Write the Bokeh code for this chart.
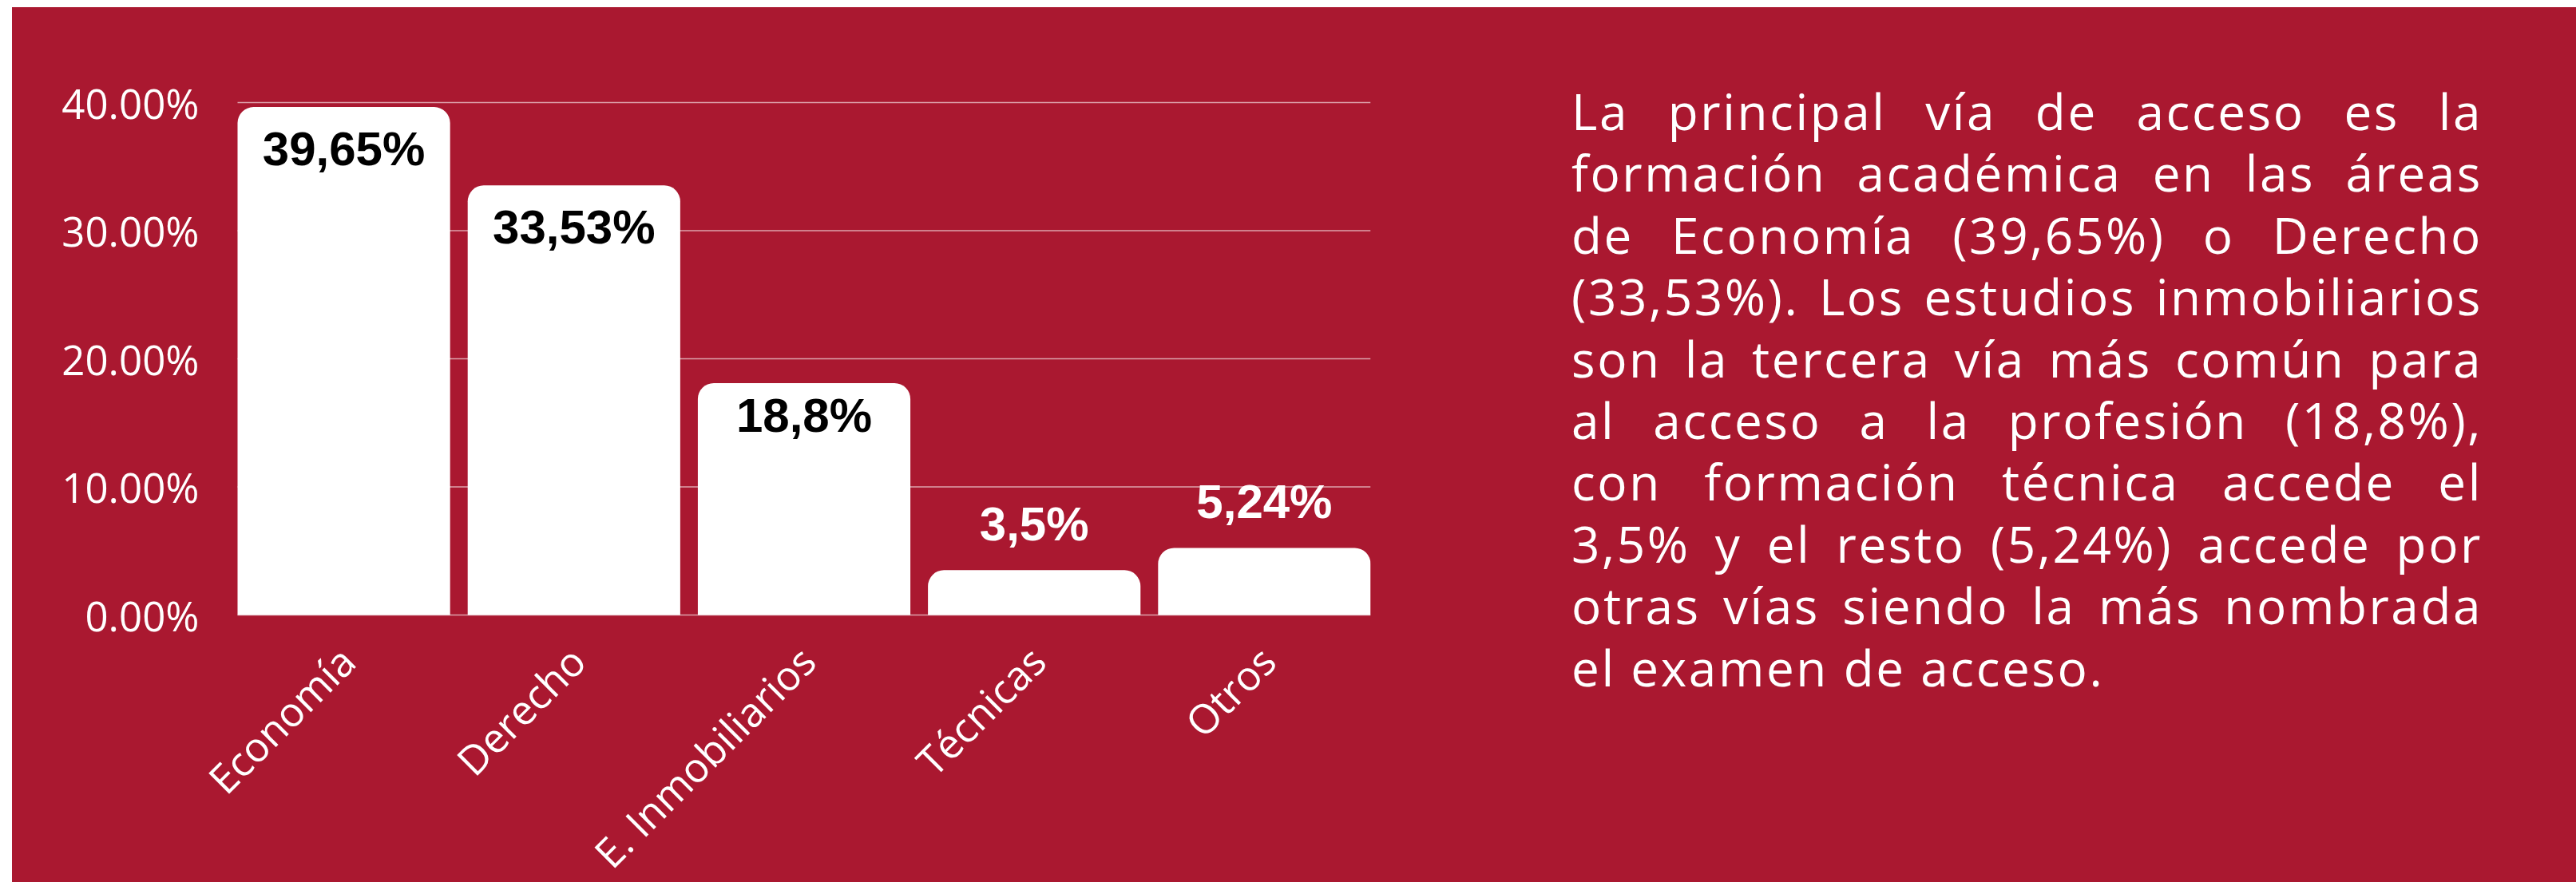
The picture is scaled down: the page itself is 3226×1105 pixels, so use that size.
import math
from bokeh.plotting import figure
from bokeh.models import Range1d, FixedTicker, Div, ColumnDataSource
from bokeh.layouts import row
from bokeh.embed import file_html
from bokeh.resources import INLINE
from bokeh.core.properties import value

# ---------------- data ----------------
categories = ["Economía", "Derecho", "E. Inmobiliarios", "Técnicas", "Otros"]
shares = [39.65, 33.53, 18.8, 3.5, 5.24]          # labelled shares (%)
bar_heights = [39.65, 33.53, 18.1, 3.5, 5.24]     # heights as drawn in the picture (%)
share_labels = ["39,65%", "33,53%", "18,8%", "3,5%", "5,24%"]
y_ticks = [0, 10, 20, 30, 40]
y_tick_labels = ["0.00%", "10.00%", "20.00%", "30.00%", "40.00%"]
paragraph_lines = [
    "La principal vía de acceso es la",
    "formación académica en las áreas",
    "de Economía (39,65%) o Derecho",
    "(33,53%). Los estudios inmobiliarios",
    "son la tercera vía más común para",
    "al acceso a la profesión (18,8%),",
    "con formación técnica accede el",
    "3,5% y el resto (5,24%) accede por",
    "otras vías siendo la más nombrada",
    "el examen de acceso.",
]

# ---------------- style / geometry ----------------
RED = "#AA1830"
BAR_W = 0.9236
FIG_W, FIG_H = 1900, 1096
TEXT_W = 3226 - 15 - FIG_W
PX_PER_UNIT = 16.05            # vertical pixels per percentage point
PX_PER_CAT = 288.2             # horizontal pixels per category
TOP_PAD_PX = 3                 # room above the 40% grid line
BOTTOM_ROOM_PX = 335           # room below 0% for the rotated category names
LEFT_ROOM_PX = 42              # room left of the first bar for its rotated name

xs = list(range(len(categories)))
bars_start = -BAR_W / 2
bars_end = len(categories) - 1 + BAR_W / 2
y_max = max(y_ticks) + TOP_PAD_PX / PX_PER_UNIT
y_min = -BOTTOM_ROOM_PX / PX_PER_UNIT

p = figure(
    width=FIG_W, height=FIG_H,
    x_range=Range1d(bars_start - LEFT_ROOM_PX / PX_PER_CAT, bars_end),
    y_range=Range1d(y_min, y_max),
    output_backend="svg", toolbar_location=None,
    min_border_left=240, min_border_right=199,
    min_border_top=116, min_border_bottom=0,
)
p.background_fill_color = RED
p.border_fill_color = RED
p.outline_line_color = None
p.margin = 0

# horizontal guide lines spanning the bar area only
p.xgrid.visible = False
p.ygrid.visible = False
p.segment(x0=[bars_start] * len(y_ticks), x1=[bars_end] * len(y_ticks),
          y0=y_ticks, y1=y_ticks,
          line_color="white", line_alpha=0.6, line_width=1.5)

p.vbar(x=xs, top=bar_heights, bottom=0, width=BAR_W,
       fill_color="white", line_color=None,
       border_radius=(20, 20, 0, 0))

inside = [v > 10 for v in shares]
lab_src = ColumnDataSource(dict(
    x=xs, y=shares, text=share_labels,
    color=["black" if i else "white" for i in inside],
    yoff=[52 if i else -58 for i in inside],
))
p.text(x="x", y="y", text="text", source=lab_src,
       text_color="color", y_offset="yoff",
       text_align="center", text_baseline="alphabetic",
       text_font=value("Liberation Sans"), text_font_style="bold",
       text_font_size="60px")

# y axis
p.yaxis.ticker = FixedTicker(ticks=y_ticks)
p.yaxis.major_label_overrides = {t: l for t, l in zip(y_ticks, y_tick_labels)}
p.yaxis.axis_line_color = None
p.yaxis.major_tick_line_color = None
p.yaxis.minor_tick_line_color = None
p.yaxis.major_label_standoff = 0
p.yaxis.major_label_text_color = "white"
p.yaxis.major_label_text_font = "Open Sans"
p.yaxis.major_label_text_font_size = "51px"

# category names, rotated 45 degrees, ending under each bar
p.xaxis.visible = False
cat_src = ColumnDataSource(dict(x=xs, y=[0] * len(xs), text=categories))
p.text(x="x", y="y", text="text", source=cat_src,
       angle=math.pi / 4, x_offset=4, y_offset=48,
       text_align="right", text_baseline="alphabetic",
       text_color="white", text_font=value("Open Sans"), text_font_size="51px")

# paragraph (justified)
lines_html = []
for i, line in enumerate(paragraph_lines):
    last = i == len(paragraph_lines) - 1
    align = "text-align:left;" if last else "text-align:justify;text-align-last:justify;"
    lines_html.append(f'<div style="{align}">{line}</div>')
html = (
    f'<div style="position:relative;width:{TEXT_W}px;height:{FIG_H}px;background:{RED};">'
    f'<div style="position:absolute;left:53px;top:92px;width:1141px;'
    f"font-family:'Open Sans';font-size:62px;line-height:77.4px;color:#ffffff;"
    f'letter-spacing:2.6px;">'
    + "".join(lines_html)
    + "</div></div>"
)
div = Div(text=html, width=TEXT_W, height=FIG_H, margin=0,
          styles={"background-color": RED, "overflow": "hidden"})

layout = row(p, div, spacing=0, margin=(9, 0, 0, 15),
             styles={"background-color": RED})
open("out.html", "w").write(file_html(layout, INLINE))
